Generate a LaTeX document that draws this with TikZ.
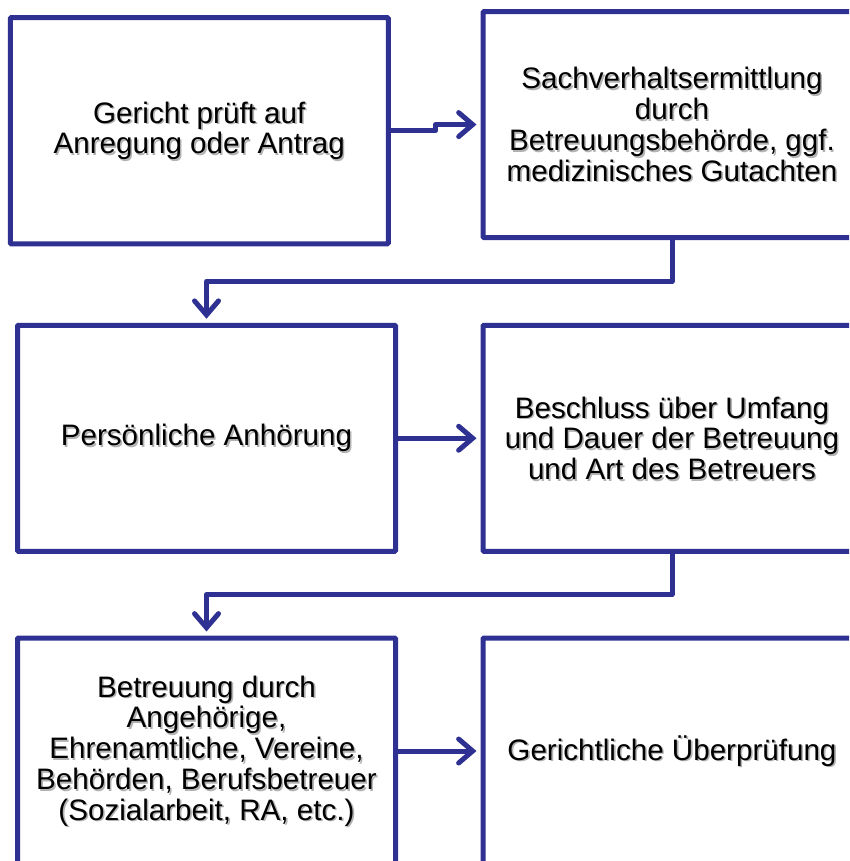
\documentclass[tikz,border=0pt]{standalone}
\usepackage{fontspec}
\setmainfont{Liberation Sans}
\usetikzlibrary{arrows.meta,calc}
\definecolor{flowblue}{HTML}{2E3192}
\tikzset{
    stepbox/.style = {
        draw=flowblue, line width=5pt, rectangle, align=center,
        rounded corners=1pt,
        minimum width=378pt, minimum height=226pt,
        font=\fontsize{29.6}{30.8}\selectfont
    },
    stepshadow/.style = {
        align=center, text=black!30, xshift=1.6pt, yshift=-1.6pt,
        font=\fontsize{29.6}{30.8}\selectfont
    },
    flow/.style = {
        draw=flowblue, line width=5pt, line join=round,
        -{Straight Barb[length=14pt,width=24pt,line cap=round]},
        shorten >=4pt
    }
}
\newcommand{\stepnode}[3]{%
  \node[stepshadow] (#1s) at (#2) {#3};
  \node[stepbox] (#1) at (#2) {#3};}

\begin{document}
\begin{tikzpicture}[x=1pt,y=-1pt]

\useasboundingbox (0,0) rectangle (849,861);
\clip (0,0) rectangle (849,861);

% 1. boxes
\stepnode{b1}{199.25,130.75}{Gericht prüft auf\\Anregung oder Antrag}
\stepnode{b2}{672,124.6}{Sachverhaltsermittlung\\durch\\Betreuungsbehörde, ggf.\\medizinisches Gutachten}
\stepnode{b3}{206.5,438.25}{Persönliche Anhörung}
\stepnode{b4}{672,438.25}{Beschluss über Umfang\\und Dauer der Betreuung\\und Art des Betreuers}
\stepnode{b5}{206.5,751}{Betreuung durch\\Angehörige,\\Ehrenamtliche, Vereine,\\Behörden, Berufsbetreuer\\(Sozialarbeit, RA, etc.)}
\stepnode{b6}{672,751}{Gerichtliche Überprüfung}

% 2. arrows
\draw[flow] (b1.east) -| ($(b1.east)!.5!(b2.west)$) |- (b2.west);
\draw[flow] (b2.south) |- ($(b2.south)!.5!(b3.north)$) -| (b3.north);
\draw[flow] (b3) -- (b4);
\draw[flow] (b4.south) |- ($(b4.south)!.5!(b5.north)$) -| (b5.north);
\draw[flow] (b5) -- (b6);

\end{tikzpicture}
\end{document}
